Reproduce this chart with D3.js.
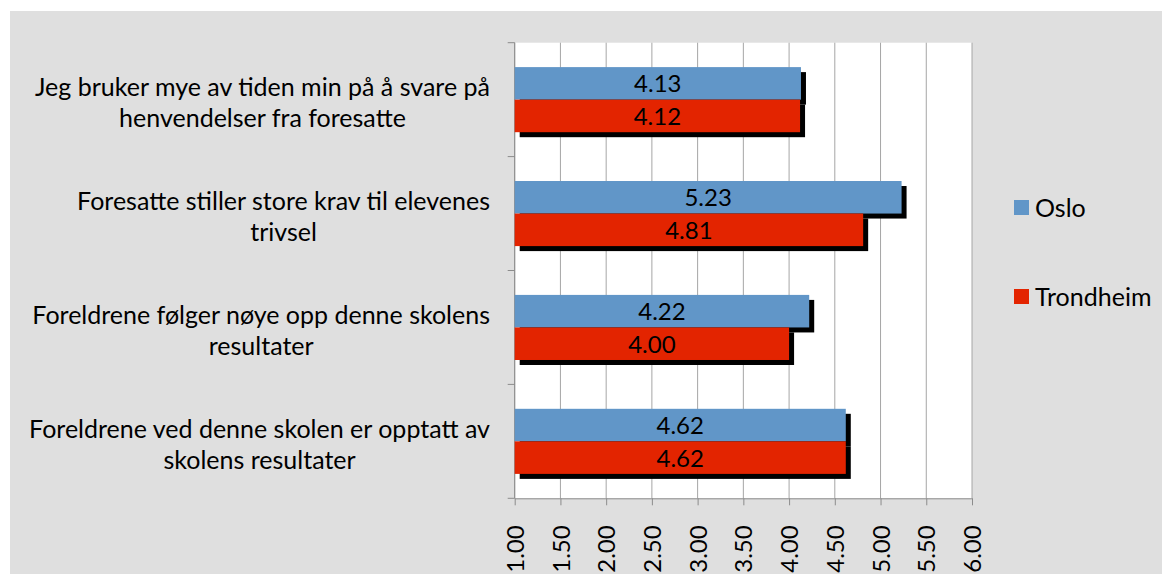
<!DOCTYPE html>
<html>
<head>
<meta charset="utf-8">
<script src="https://cdn.jsdelivr.net/npm/d3@7"></script>
<style>
  html, body { margin: 0; padding: 0; background: #ffffff; }
  svg { display: block; }
  text { font-family: Lato, "Open Sans", sans-serif; fill: #000; }
</style>
</head>
<body>
<svg id="chart" width="1162" height="574"></svg>
<script>
// Survey statements (each split over two lines) and mean scores per city
const categories = [
  ["Jeg bruker mye av tiden min på å svare på", "henvendelser fra foresatte"],
  ["Foresatte stiller store krav til elevenes", "trivsel"],
  ["Foreldrene følger nøye opp denne skolens", "resultater"],
  ["Foreldrene ved denne skolen er opptatt av", "skolens resultater"]
];
const seriesNames = ["Oslo", "Trondheim"];
const osloValues = [4.13, 5.23, 4.22, 4.62];
const trondheimValues = [4.12, 4.81, 4.00, 4.62];
const tickValues = [1.0, 1.5, 2.0, 2.5, 3.0, 3.5, 4.0, 4.5, 5.0, 5.5, 6.0];

const colors = { "Oslo": "#6196c8", "Trondheim": "#e32400" };
const seriesValues = { "Oslo": osloValues, "Trondheim": trondheimValues };

const svg = d3.select("#chart");
const W = 1162, H = 574;
const plot = { left: 514.7, right: 972, top: 42.7, bottom: 498.3 };

// chart area background
svg.append("rect").attr("x", 10).attr("y", 11).attr("width", W - 10).attr("height", H - 11)
  .attr("fill", "#dfdfdf");
svg.append("rect").attr("x", plot.left).attr("y", plot.top)
  .attr("width", plot.right - plot.left).attr("height", plot.bottom - plot.top)
  .attr("fill", "#ffffff");

const keys = categories.map((c, i) => i);
const x = d3.scaleLinear().domain([1, 6]).range([plot.left, plot.right]);
const y = d3.scaleBand().domain(keys).range([plot.top, plot.bottom]).padding(0);
const ySub = d3.scaleBand().domain(seriesNames).range([0, y.bandwidth()])
  .paddingInner(0).paddingOuter(0.75);

// vertical gridlines
svg.append("g").selectAll("line").data(tickValues).join("line")
  .attr("x1", d => x(d)).attr("x2", d => x(d))
  .attr("y1", plot.top).attr("y2", plot.bottom)
  .attr("stroke", "#a6a6a6").attr("stroke-width", 1);

// bottom value axis with rotated labels
const xAxis = svg.append("g").attr("transform", `translate(0,${plot.bottom})`)
  .call(d3.axisBottom(x).tickValues(tickValues).tickFormat(d3.format(".2f"))
    .tickSize(7).tickSizeOuter(0));
xAxis.select(".domain").attr("stroke", "#8c8c8c");
xAxis.selectAll(".tick line").attr("stroke", "#8c8c8c");
xAxis.selectAll(".tick text")
  .attr("font-size", 24).attr("font-family", "Lato, 'Open Sans', sans-serif")
  .attr("fill", "#000")
  .attr("transform", "rotate(-90)")
  .attr("text-anchor", "end")
  .attr("x", -27).attr("y", 0).attr("dy", "0.36em")
  .attr("dx", 0);

// left category axis: ticks at band boundaries
const leftAxis = svg.append("g");
leftAxis.append("line").attr("x1", plot.left).attr("x2", plot.left)
  .attr("y1", plot.top).attr("y2", plot.bottom).attr("stroke", "#8c8c8c");
const bounds = keys.map(k => y(k)).concat([plot.bottom]);
leftAxis.selectAll("line.tk").data(bounds).join("line").attr("class", "tk")
  .attr("x1", plot.left - 7).attr("x2", plot.left)
  .attr("y1", d => d).attr("y2", d => d).attr("stroke", "#8c8c8c");

// category labels: centred lines, block right-aligned next to the axis
const labelRight = 490;
keys.forEach(k => {
  const cy = y(k) + y.bandwidth() / 2;
  const g = svg.append("g");
  const texts = categories[k].map((line, i) => g.append("text")
    .attr("font-size", 25)
    .attr("y", cy - 3.5 + i * 31)
    .attr("text-anchor", "middle")
    .text(line));
  const maxW = d3.max(texts, t => t.node().getComputedTextLength());
  texts.forEach(t => t.attr("x", labelRight - maxW / 2));
});

// flatten bar data
const bars = [];
keys.forEach(k => seriesNames.forEach(s => bars.push({ k, s, v: seriesValues[s][k] })));

// drop shadows behind each bar
svg.append("g").selectAll("rect").data(bars).join("rect")
  .attr("x", x(1) + 5)
  .attr("y", d => y(d.k) + ySub(d.s) + 5)
  .attr("width", d => x(d.v) - x(1))
  .attr("height", ySub.bandwidth())
  .attr("fill", "#000");

// bars
svg.append("g").selectAll("rect").data(bars).join("rect")
  .attr("x", x(1))
  .attr("y", d => y(d.k) + ySub(d.s))
  .attr("width", d => x(d.v) - x(1))
  .attr("height", ySub.bandwidth())
  .attr("fill", d => colors[d.s]);

// value labels centred in each bar
svg.append("g").selectAll("text").data(bars).join("text")
  .attr("x", d => (x(1) + x(d.v)) / 2)
  .attr("y", d => y(d.k) + ySub(d.s) + ySub.bandwidth() / 2)
  .attr("dy", "0.38em")
  .attr("text-anchor", "middle")
  .attr("font-size", 24)
  .text(d => d.v.toFixed(2));

// legend
const legend = svg.append("g");
const legendRows = [{ s: "Oslo", y: 200 }, { s: "Trondheim", y: 289 }];
legendRows.forEach(r => {
  legend.append("rect").attr("x", 1014).attr("y", r.y).attr("width", 15).attr("height", 15)
    .attr("fill", colors[r.s]);
  legend.append("text").attr("x", 1035).attr("y", r.y + 17).attr("font-size", 25).text(r.s);
});
</script>
</body>
</html>
